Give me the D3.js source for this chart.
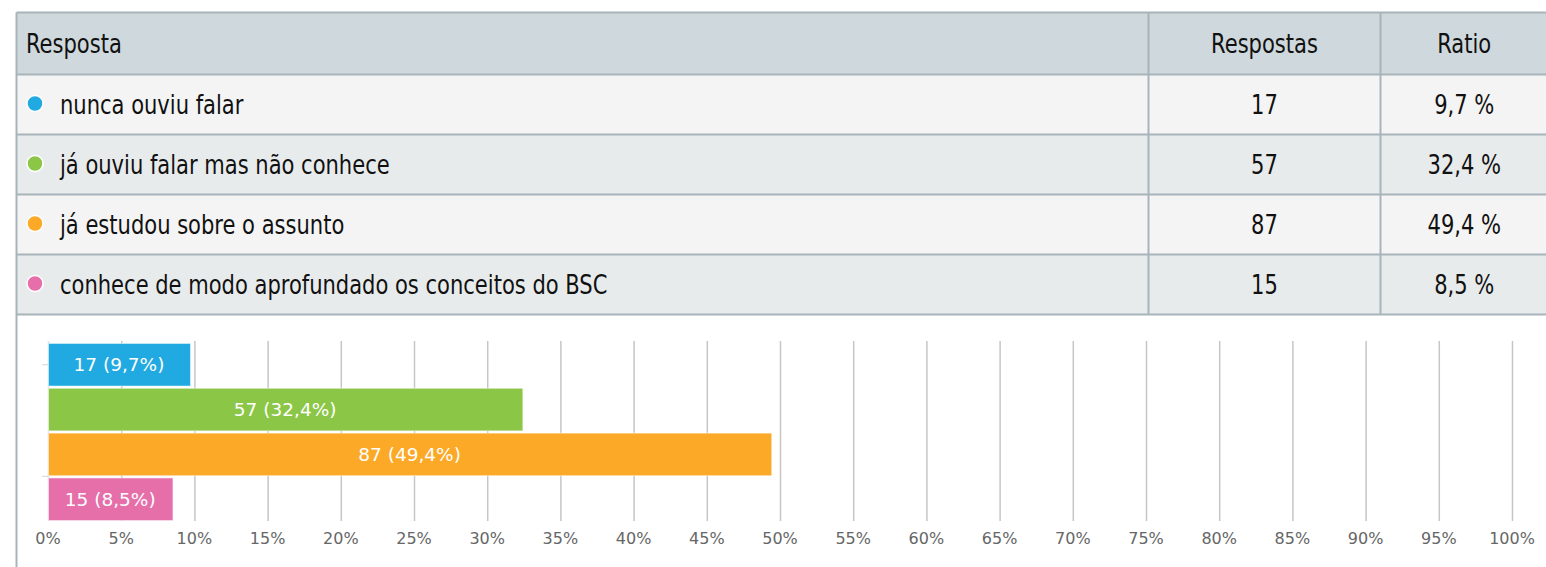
<!DOCTYPE html>
<html>
<head>
<meta charset="utf-8">
<script src="https://cdn.jsdelivr.net/npm/d3@7"></script>
<style>
  html, body { margin: 0; padding: 0; background: #fff; }
  svg { display: block; }
  .tbl-text { font-family: "Liberation Sans Narrow", "DejaVu Sans Condensed", "Roboto Condensed", sans-serif; font-stretch: condensed; font-size: 26px; fill: #111; }
  .bar-label { font-family: "DejaVu Sans", sans-serif; font-size: 18.5px; fill: #fff; }
  .tick-label { font-family: "DejaVu Sans", sans-serif; font-size: 16px; fill: #666; }
</style>
</head>
<body>
<div id="chart"></div>
<script>
const HEADERS = ["Resposta", "Respostas", "Ratio"];
const ANSWERS = [
  "nunca ouviu falar",
  "já ouviu falar mas não conhece",
  "já estudou sobre o assunto",
  "conhece de modo aprofundado os conceitos do BSC",
];
const COUNTS = [17, 57, 87, 15];
const RATIOS = [9.7, 32.4, 49.4, 8.5];
const PALETTE = ["#20aae1", "#8bc647", "#fba926", "#e66ea9"];

const fmtComma = (v) => String(v).replace(".", ",");

// table font is narrower than what is installed, squeeze it horizontally
function tblText(parent, x, y, anchor, text) {
  return parent.append("text").attr("class", "tbl-text")
    .attr("transform", `translate(${x}, ${y}) scale(0.9, 1)`)
    .attr("dy", "0.35em")
    .attr("text-anchor", anchor)
    .text(text);
}

function renderTable(svg) {
  const left = 16.5, right = 1548, top = 12.5;
  const headerH = 62, rowH = 60;
  const colA = 1148.5, colB = 1380.5;
  const rowBg = ["#f4f4f4", "#e8ebec"];
  const border = "#a7b4ba";

  svg.append("rect")
    .attr("x", left).attr("y", top)
    .attr("width", right - left).attr("height", headerH)
    .attr("fill", "#cfd8dc");

  const rows = svg.append("g")
    .selectAll("g")
    .data(ANSWERS.map((answer, i) => ({ answer, count: COUNTS[i], ratio: RATIOS[i], color: PALETTE[i], i })))
    .join("g")
    .attr("transform", (d) => `translate(0, ${top + headerH + d.i * rowH})`);

  rows.append("rect")
    .attr("x", left).attr("width", right - left).attr("height", rowH)
    .attr("fill", (d) => rowBg[d.i % 2]);

  rows.append("circle")
    .attr("cx", 35).attr("cy", rowH / 2 - 1).attr("r", 8)
    .attr("fill", (d) => d.color)
    .attr("stroke", "#fff").attr("stroke-width", 1.5);

  rows.each(function (d) {
    const row = d3.select(this);
    tblText(row, 60, rowH / 2, "start", d.answer);
    tblText(row, (colA + colB) / 2, rowH / 2, "middle", d.count);
    tblText(row, (colB + right) / 2, rowH / 2, "middle", `${fmtComma(d.ratio)} %`);
  });

  tblText(svg, 26, top + headerH / 2, "start", HEADERS[0]);
  tblText(svg, (colA + colB) / 2, top + headerH / 2, "middle", HEADERS[1]);
  tblText(svg, (colB + right) / 2, top + headerH / 2, "middle", HEADERS[2]);

  // borders
  const bottom = top + headerH + ANSWERS.length * rowH;
  const lines = svg.append("g").attr("stroke", border).attr("stroke-width", 2);
  [top, ...d3.range(ANSWERS.length + 1).map((k) => top + headerH + k * rowH)].forEach((y) => {
    lines.append("line").attr("x1", left).attr("x2", right).attr("y1", y).attr("y2", y);
  });
  [colA, colB].forEach((x) => {
    lines.append("line").attr("x1", x).attr("x2", x).attr("y1", top).attr("y2", bottom);
  });
  lines.append("line").attr("x1", left).attr("x2", left).attr("y1", top).attr("y2", 567);
}

function renderBars(svg) {
  const x = d3.scaleLinear().domain([0, 100]).range([48, 1512]);
  const y = d3.scaleBand().domain(d3.range(ANSWERS.length)).range([343, 521]).paddingInner(0.05).paddingOuter(0.01);

  const grid = svg.append("g");
  grid.selectAll("line")
    .data(x.ticks(20))
    .join("line")
    .attr("x1", (d) => x(d) + 0.5).attr("x2", (d) => x(d) + 0.5)
    .attr("y1", 341).attr("y2", 521)
    .attr("stroke", (d) => (d === 0 ? "#dde3e6" : "#c6c6c6"))
    .attr("stroke-width", 1.5);

  grid.selectAll("text")
    .data(x.ticks(20))
    .join("text")
    .attr("class", "tick-label")
    .attr("x", (d) => x(d)).attr("y", 544)
    .attr("text-anchor", "middle")
    .text((d) => `${d}%`);

  // small y-axis ticks
  const yTicks = [y(0) + y.bandwidth() / 2, y(3) - (y.step() - y.bandwidth()) / 2 - 0.5];
  svg.append("g").selectAll("line").data(yTicks).join("line")
    .attr("x1", 42).attr("x2", 48).attr("y1", (d) => d).attr("y2", (d) => d)
    .attr("stroke", "#cfd8dc").attr("stroke-width", 1);

  const data = ANSWERS.map((answer, i) => ({ i, count: COUNTS[i], ratio: RATIOS[i], color: PALETTE[i] }));

  svg.append("g").selectAll("rect").data(data).join("rect")
    .attr("x", x(0) + 0.5).attr("y", (d) => y(d.i))
    .attr("width", (d) => x(d.ratio) - x(0))
    .attr("height", y.bandwidth())
    .attr("fill", (d) => d.color)
    .attr("stroke", "#fff").attr("stroke-opacity", 0.5).attr("stroke-width", 1);

  svg.append("g").selectAll("text").data(data).join("text")
    .attr("class", "bar-label")
    .attr("x", (d) => (x(0) + x(d.ratio)) / 2)
    .attr("y", (d) => y(d.i) + y.bandwidth() / 2)
    .attr("dy", "0.35em")
    .attr("text-anchor", "middle")
    .text((d) => `${d.count} (${fmtComma(d.ratio)}%)`);
}

const svg = d3.select("#chart").append("svg").attr("width", 1546).attr("height", 567);
renderTable(svg);
renderBars(svg);
</script>
</body>
</html>
